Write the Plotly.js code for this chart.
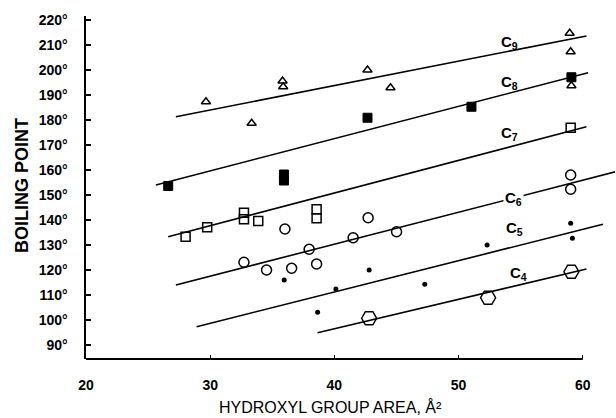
<!DOCTYPE html>
<html><head><meta charset="utf-8">
<script src="https://cdn.plot.ly/plotly-3.0.1.min.js"></script>
<style>html,body{margin:0;padding:0;background:#fff}#chart{width:616px;height:418px}</style>
</head><body><div id="chart"></div>
<script>
// Data (x = hydroxyl group area, Å², y = boiling point, °C)
const c9X = [29.66, 35.83, 35.88, 42.67, 44.52, 33.34, 58.95, 59.03, 59.09];
const c9Y = [187.3, 195.6, 193.3, 200.0, 192.9, 178.7, 214.7, 207.3, 193.7];
const c8X = [26.62, 35.94, 35.94, 42.67, 51.04, 59.09];
const c8Y = [153.6, 158.2, 155.8, 180.9, 185.3, 197.1];
const c7X = [28.02, 29.76, 32.72, 32.72, 33.87, 38.57, 38.57, 59.03];
const c7Y = [133.3, 137.1, 142.9, 140.3, 139.6, 144.3, 140.7, 176.9];
const c6X = [32.72, 34.54, 36.56, 36.02, 37.97, 38.57, 41.51, 42.72, 45.01, 59.03, 59.03];
const c6Y = [123.1, 120.0, 120.7, 136.4, 128.3, 122.4, 132.9, 140.9, 135.3, 158.0, 152.3];
const c5X = [35.96, 38.65, 40.12, 42.80, 47.28, 52.30, 59.03, 59.17];
const c5Y = [116.0, 103.1, 112.4, 120.0, 114.3, 130.0, 138.7, 132.7];
const c4X = [42.80, 52.38, 59.09];
const c4Y = [100.7, 108.9, 119.3];

// Fitted straight lines (end points)
const c9LineX = [27.24, 60.3], c9LineY = [181.3, 213.6];
const c8LineX = [25.63, 60.43], c8LineY = [154.0, 198.9];
const c7LineX = [26.62, 60.3], c7LineY = [133.3, 177.3];
const c6LineX = [27.24, 62.66], c6LineY = [114.0, 159.3];
const c5LineX = [28.91, 61.63], c5LineY = [97.3, 138.3];
const c4LineX = [38.65, 60.3], c4LineY = [94.9, 120.4];

const seriesLabels = ['C<sub>9</sub>', 'C<sub>8</sub>', 'C<sub>7</sub>', 'C<sub>6</sub>', 'C<sub>5</sub>', 'C<sub>4</sub>'];
const labelX = [54.1, 54.1, 54.1, 54.4, 54.5, 54.8];
const labelY = [211.2, 195.2, 174.8, 148.8, 136.8, 118.8];

const yTicks = [90, 100, 110, 120, 130, 140, 150, 160, 170, 180, 190, 200, 210, 220];
const xTicks = [20, 30, 40, 50, 60];

const FONT = 'Liberation Sans, Arial, Helvetica, sans-serif';
const lineStyle = {color: '#000', width: 1.6};

function lineTrace(x, y) {
  return {x: x, y: y, mode: 'lines', line: lineStyle, hoverinfo: 'skip', showlegend: false};
}
function pts(x, y, symbol, size, lw) {
  return {x: x, y: y, mode: 'markers', showlegend: false,
    marker: {symbol: symbol, size: size, color: '#000', line: {color: '#000', width: lw}}};
}

const traces = [
  lineTrace(c9LineX, c9LineY), lineTrace(c8LineX, c8LineY), lineTrace(c7LineX, c7LineY),
  lineTrace(c6LineX, c6LineY), lineTrace(c5LineX, c5LineY), lineTrace(c4LineX, c4LineY),
  pts(c9X, c9Y, 'triangle-up-open', 8, 1.5),
  pts(c8X, c8Y, 'square', 9, 1),
  pts(c7X, c7Y, 'square-open', 9, 1.5),
  pts(c6X, c6Y, 'circle-open', 10, 1.5),
  pts(c5X, c5Y, 'circle', 5, 0),
  pts(c4X, c4Y, 'hexagon2-open', 15, 1.5)
];

const annotations = seriesLabels.map((t, i) => ({
  x: labelX[i], y: labelY[i], xref: 'x', yref: 'y', text: t, showarrow: false,
  font: {family: FONT, size: 15, color: '#000', weight: 'bold'},
  bgcolor: i === 3 ? '#fff' : 'rgba(0,0,0,0)', borderpad: 1
}));
annotations.push({
  xref: 'paper', yref: 'paper', x: (330 - 86) / 529, y: -(407 - 359) / 343,
  xanchor: 'center', yanchor: 'middle', showarrow: false,
  text: 'HYDROXYL GROUP AREA, Å²', font: {family: FONT, size: 16, color: '#000'}
});
annotations.push({
  xref: 'paper', yref: 'paper', x: -(86 - 22) / 529, y: (359 - 186) / 343,
  xanchor: 'center', yanchor: 'middle', showarrow: false, textangle: -90,
  text: 'BOILING POINT', font: {family: FONT, size: 18, color: '#000', weight: 'bold'}
});

const layout = {
  width: 616, height: 418,
  margin: {l: 86, r: 1, t: 16, b: 59},
  paper_bgcolor: '#fff', plot_bgcolor: '#fff',
  showlegend: false,
  xaxis: {
    range: [20, 62.6], showgrid: false, zeroline: false, showline: false,
    tickmode: 'array', tickvals: xTicks, ticktext: xTicks.map(String),
    ticks: 'inside', ticklen: 4, tickwidth: 1.2, tickcolor: '#000',
    ticklabelstandoff: 16,
    tickfont: {family: FONT, size: 14, color: '#000', weight: 'bold'}
  },
  yaxis: {
    range: [84.4, 221.6], showgrid: false, zeroline: false,
    showline: true, linecolor: '#000', linewidth: 1.6,
    tickmode: 'array', tickvals: yTicks, ticktext: yTicks.map(v => v + '°'),
    ticks: 'inside', ticklen: 5, tickwidth: 1.2, tickcolor: '#000',
    ticklabelstandoff: 14,
    tickfont: {family: FONT, size: 14, color: '#000', weight: 'bold'}
  },
  shapes: [{
    type: 'line', xref: 'x', yref: 'paper', x0: 20, x1: 60, y0: 0, y1: 0,
    line: {color: '#000', width: 1.8}
  }],
  annotations: annotations
};

Plotly.newPlot('chart', traces, layout, {displayModeBar: false, staticPlot: true});
</script>
</body></html>
